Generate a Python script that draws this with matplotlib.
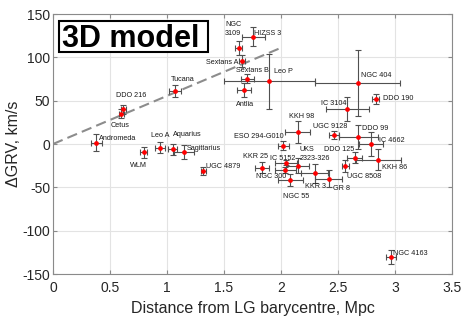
import matplotlib
matplotlib.use("Agg")
import matplotlib.pyplot as plt
from matplotlib.patches import Rectangle

plt.rcParams['font.family'] = ['Liberation Sans', 'DejaVu Sans']

# ---------------- data ----------------
names = ["HIZSS 3", "NGC\n3109", "Sextans A", "Sextans B", "Leo P", "Antlia", "Tucana",
         "DDO 216", "Cetus", "Andromeda", "WLM", "Leo A", "Aquarius", "Sagittarius",
         "UGC 4879", "KKR 25", "ESO 294-G010", "NGC 300", "IC 5152", "UKS\n2323-326",
         "NGC 55", "KKR 3", "GR 8", "UGC 8508", "DDO 125", "KKH 86", "IC 4662", "DDO 99",
         "UGC 9128", "KKH 98", "IC 3104", "NGC 404", "DDO 190", "NGC 4163"]
dist = [1.757, 1.629, 1.658, 1.705, 1.898, 1.678, 1.07,
        0.617, 0.60, 0.38, 0.795, 0.936, 1.05, 1.149,
        1.318, 1.836, 2.02, 2.038, 2.044, 2.146,
        2.082, 2.295, 2.418, 2.564, 2.646, 2.854, 2.787, 2.678,
        2.468, 2.146, 2.582, 2.675, 2.83, 2.965]
dgrv = [123.8, 111.0, 95.4, 75.3, 72.3, 62.0, 61.0,
        40.0, 35.0, 1.5, -9.6, -4.2, -6.2, -9.6,
        -31.0, -27.3, -2.0, -30.0, -21.5, -25.0,
        -42.0, -34.0, -40.0, -25.4, -15.8, -18.0, 0.0, 7.7,
        10.0, 13.5, 40.8, 70.4, 52.0, -130.7]
dist_err = [0.10, 0.03, 0.03, 0.055, 0.40, 0.06, 0.05,
            0.02, 0.02, 0.05, 0.03, 0.045, 0.04, 0.09,
            0.02, 0.06, 0.05, 0.095, 0.095, 0.10,
            0.107, 0.12, 0.12, 0.03, 0.063, 0.196, 0.107, 0.17,
            0.044, 0.11, 0.187, 0.373, 0.03, 0.044]
dgrv_err = [11, 8, 7, 5, 32, 8, 7,
            5, 5, 9.5, 6, 6, 6.5, 8,
            5, 6, 5, 4, 3, 8.5,
            7, 10.6, 9.6, 6.7, 6, 12.5, 14.4, 14,
            4.5, 12.5, 14, 37.7, 6, 8]

hubble_x = [0.0, 2.0]
hubble_slope = 55.5

x_ticks = [0, 0.5, 1, 1.5, 2, 2.5, 3, 3.5]
x_ticklabels = ["0", "0.5", "1", "1.5", "2", "2.5", "3", "3.5"]
y_ticks = [-150, -100, -50, 0, 50, 100, 150]
y_ticklabels = ["-150", "-100", "-50", "0", "50", "100", "150"]

# label offsets (pixels: left edge, vertical centre relative to point)
label_offsets = [(0.7, 3.4), (-13.7, 19), (-36, -1), (-11.3, 8.4), (4.7, 10.3), (-8.6, -14.7),
                 (-4.3, 11.7), (-7.6, 13.6), (-11, -12), (2.7, 4.4), (-13.7, -13), (-9, 12.4),
                 (0, 15.3), (2.7, 4.3), (2.7, 4), (-19.6, 11), (-49.3, 9), (-29.3, -6.3),
                 (-16, 4), (2.3, 12), (-7.6, -15.7), (-9.7, -13.4), (4, -9.6), (1.4, -10),
                 (-30.4, 7.8), (3.4, -7.6), (8.6, 4), (3.4, 9.3), (-21, 8.6), (-8.7, 16.3),
                 (-26.6, 5.4), (3, 7), (7, 0), (2.3, 3.6)]

# ---------------- figure ----------------
fig = plt.figure(figsize=(4.63, 3.27), dpi=100)
ax = fig.add_axes([53 / 463, 1 - 274 / 327, 399 / 463, 260 / 327])

ax.set_xlim(0, 3.5)
ax.set_ylim(-150, 150)
ax.set_xticks(x_ticks)
ax.set_xticklabels(x_ticklabels)
ax.set_yticks(y_ticks)
ax.set_yticklabels(y_ticklabels)
ax.grid(True, color='#e3e3e3', linewidth=0.8)
ax.set_axisbelow(True)
for s in ax.spines.values():
    s.set_color('#8a8a8a')
    s.set_linewidth(0.8)
ax.tick_params(direction='in', top=True, right=True, length=3, width=0.8,
               color='#8a8a8a', labelsize=10, labelcolor='#262626')
ax.tick_params(axis='x', pad=5)
ax.tick_params(axis='y', pad=2)

# dashed reference line
ax.plot(hubble_x, [hubble_slope * v for v in hubble_x], linestyle=(0, (5, 2.5)),
        color='#8c8c8c', linewidth=1.5, zorder=2)

ax.errorbar(dist, dgrv, xerr=dist_err, yerr=dgrv_err, fmt='none',
            ecolor='#505050', elinewidth=0.8, capsize=2.0, capthick=0.8, zorder=3)
ax.plot(dist, dgrv, 'o', color='#ff0000', markersize=3.4, markeredgewidth=0, zorder=4)

for n, x, y, (dx, dy) in zip(names, dist, dgrv, label_offsets):
    ax.annotate(n, (x, y), xytext=(dx, dy), textcoords='offset pixels',
                ha='left', va='center', fontsize=5.2, color='#1a1a1a',
                linespacing=1.35, zorder=5)

ax.set_xlabel("Distance from LG barycentre, Mpc", fontsize=11.5, color='#262626', labelpad=4)
ax.set_ylabel("ΔGRV, km/s", fontsize=11.5, color='#262626', labelpad=1)

# "3D model" box
ax.add_patch(Rectangle((0.0158, 0.855), 0.3727, 0.118, transform=ax.transAxes,
                       facecolor='white', edgecolor='black', linewidth=1.5, zorder=6))
ax.text(0.0226, 0.874, "3D model", transform=ax.transAxes, ha='left', va='baseline',
        fontsize=22, fontweight='bold', color='black', zorder=7)

fig.savefig("out.png", dpi=100)
